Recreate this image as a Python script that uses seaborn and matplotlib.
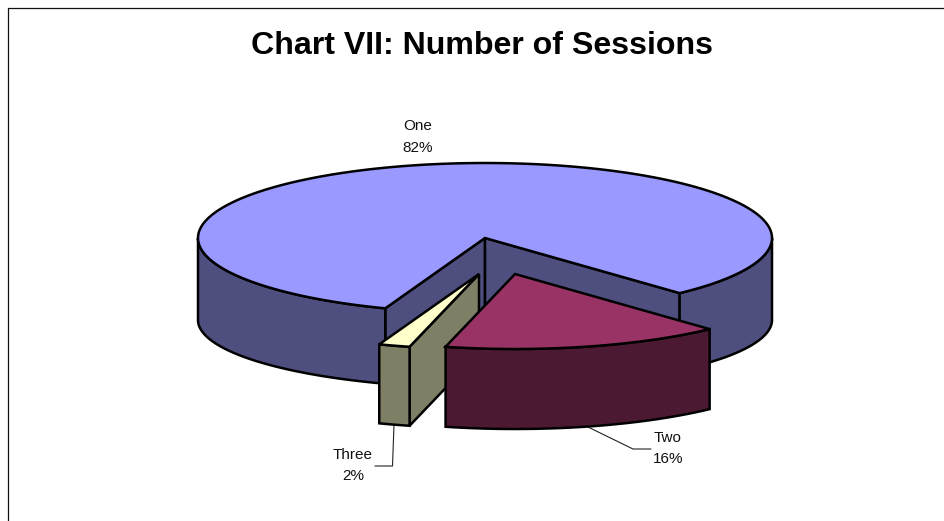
import numpy as np
import matplotlib
matplotlib.use("Agg")
import matplotlib.pyplot as plt
import seaborn as sns

categories = ["One", "Two", "Three"]
values = [82.49, 15.75, 1.76]

TITLE = "Chart VII: Number of Sessions"
top_colors = sns.color_palette(["#9999FF", "#993366", "#FFFFCC"])
side_colors = sns.color_palette(["#4F4F7F", "#4C1933", "#7F7F66"])

sns.set_theme(style="white")
plt.rcParams["font.family"] = ["Liberation Sans", "DejaVu Sans"]

W, H = 944, 521
fig = plt.figure(figsize=(W / 100, H / 100), dpi=100)
ax = fig.add_axes([0, 0, 1, 1])
ax.set_xlim(0, W)
ax.set_ylim(H, 0)
ax.axis("off")

RX, RY = 287, 75
START = 137.3           # clockwise from 12 o'clock
LW = 1.8
INK = "black"
apex = {"One": (485, 238), "Two": (515, 274), "Three": (479, 274)}
depth = {"One": 82, "Two": 80, "Three": 79}
bottom_ry = {"One": 68, "Two": 75, "Three": 75}


def rim(c, a0, a1, ry=RY, n=160):
    t = np.radians(np.linspace(a0, a1, n))
    return c[0] + RX * np.sin(t), c[1] - ry * np.cos(t)


def poly(xs, ys, color, z):
    ax.fill(xs, ys, facecolor=color, edgecolor=INK, lw=LW, joinstyle="miter", zorder=z)


def wall(name, a0, a1, color, z):
    """Outer wall between two clockwise angles on the front half."""
    c, d = apex[name], depth[name]
    x, y = rim(c, a0, a1)
    xb, yb = rim((c[0], c[1] + d), a0, a1, bottom_ry[name])
    poly(np.r_[x, xb[::-1]], np.r_[y, yb[::-1]], color, z)


def cut_face(name, a, color, z):
    c, d = apex[name], depth[name]
    x, y = rim(c, a, a, n=1)
    xb, yb = rim((c[0], c[1] + d), a, a, bottom_ry[name], n=1)
    poly([c[0], x[0], xb[0], c[0]], [c[1], y[0], yb[0], c[1] + d], color, z)


def top(name, a0, a1, color, z):
    c = apex[name]
    x, y = rim(c, a0, a1, n=320)
    poly(np.r_[c[0], x], np.r_[c[1], y], color, z)


spans = np.array(values) / sum(values) * 360
a_two0 = START
a_two1 = a_two0 + spans[1]
a_three1 = a_two1 + spans[2]
a_one0 = a_three1
a_one1 = START + 360

# One runs round the back of the pie, from the end of Three to the start of Two
cut_face("One", a_one0, side_colors[0], 1)
cut_face("One", a_one1, side_colors[0], 1)
wall("One", a_one0, 270, side_colors[0], 1.1)
wall("One", 90, START, side_colors[0], 1.1)
top("One", a_one0, a_one1, top_colors[0], 1.2)

# Three: only its right-hand cut face and rim look toward the viewer
cut_face("Three", a_two1, side_colors[2], 2)
wall("Three", a_two1, a_three1, side_colors[2], 2.1)
top("Three", a_two1, a_three1, top_colors[2], 2.2)

# Two
wall("Two", a_two0, a_two1, side_colors[1], 3)
top("Two", a_two0, a_two1, top_colors[1], 3.1)

# leader lines
ax.plot([588, 633, 651], [427, 449, 449], color="#222222", lw=0.8, zorder=1.5)
ax.plot([394, 392.5, 375], [425, 466, 466], color="#222222", lw=0.8, zorder=1.5)

# labels: name above, share below
label_pos = {"One": (418, 137), "Two": (668, 448.5), "Three": (353, 465.5)}
for name, v in zip(categories, values):
    x, y = label_pos[name]
    ax.text(x, y - 10.5, name, ha="center", va="center", fontsize=11,
            color="#111111", zorder=5)
    ax.text(x, y + 10.5, f"{v:.0f}%", ha="center", va="center", fontsize=11,
            color="#111111", zorder=5)

ax.text(482, 46, TITLE, ha="center", va="center", fontsize=23.1,
        fontweight="bold", color="black")

# chart frame, cut by the edge of the picture
ax.plot([7.5, 7.5, W], [H, 8, 8], color="#111111", lw=0.9, zorder=6, clip_on=False)

fig.savefig("out.png", dpi=100)
